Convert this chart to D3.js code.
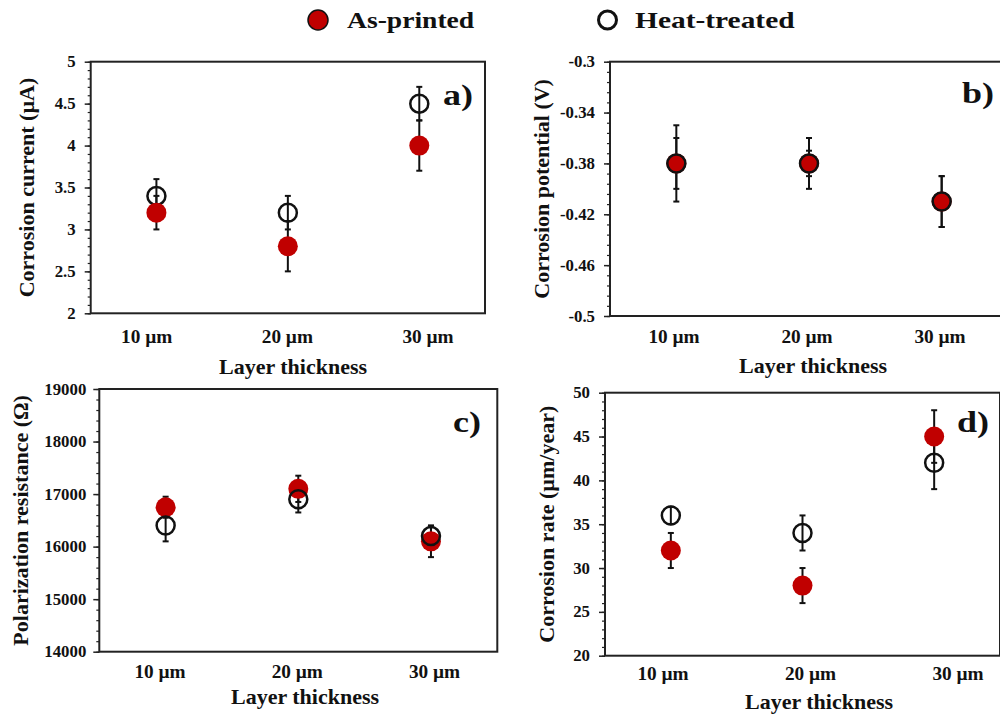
<!DOCTYPE html>
<html>
<head>
<meta charset="utf-8">
<script src="https://cdn.jsdelivr.net/npm/d3@7"></script>
<style>
  body { margin: 0; background: #ffffff; }
  svg text { font-family: 'Liberation Serif', 'DejaVu Serif', serif; font-weight: bold; fill: #111; }
</style>
</head>
<body>
<div id="chart"></div>
<script>
// categories shared by all four panels
const categories = ['10 µm', '20 µm', '30 µm'];

// a) corrosion current (µA)
const currentAs = [3.2, 2.8, 4.0];
const currentAsErr = [0.2, 0.3, 0.3];
const currentHeat = [3.4, 3.2, 4.5];
const currentHeatErr = [0.2, 0.2, 0.2];
const currentTicks = [2, 2.5, 3, 3.5, 4, 4.5, 5];

// b) corrosion potential (V)
const potentialAs = [-0.38, -0.38, -0.41];
const potentialAsErr = [0.03, 0.02, 0.02];
const potentialHeat = [-0.38, -0.38, -0.41];
const potentialHeatErr = [0.02, 0.01, 0.02];
const potentialTicks = [-0.5, -0.46, -0.42, -0.38, -0.34, -0.3];

// c) polarization resistance (Ω)
const resistanceAs = [16750, 17100, 16100];
const resistanceAsErr = [200, 250, 300];
const resistanceHeat = [16400, 16900, 16200];
const resistanceHeatErr = [300, 250, 200];
const resistanceTicks = [14000, 15000, 16000, 17000, 18000, 19000];

// d) corrosion rate (µm/year)
const rateAs = [32, 28, 45];
const rateAsErr = [2, 2, 3];
const rateHeat = [36, 34, 42];
const rateHeatErr = [1, 2, 3];
const rateTicks = [20, 25, 30, 35, 40, 45, 50];

const RED = '#c00000';

const svg = d3.select('#chart')
  .append('svg')
    .attr('width', 1000)
    .attr('height', 716);

// text placed at an anchor point, optionally rotated / stretched sideways
function putText(g, x, y, str, size, anchor, opts) {
  opts = opts || {};
  const sx = opts.sx || 1;
  return g.append('text')
    .attr('transform', 'translate(' + x + ',' + y + ')' + (opts.rotate ? ' rotate(-90)' : '') +
      (sx !== 1 ? ' scale(' + sx + ',1)' : ''))
    .attr('text-anchor', anchor || 'middle')
    .style('font-size', size + 'px')
    .text(str);
}

function doPanel(p) {
  const g = svg.append('g');
  const x = d3.scalePoint().domain(categories).range([p.left, p.right]).padding(0.5);
  // category labels sit a little apart from the markers in the figure
  const xLabel = d3.scalePoint().domain(categories).range(p.labelRange);
  const y = d3.scaleLinear().domain([p.ticks[0], p.ticks[p.ticks.length - 1]]).range([p.bottom, p.top]);

  // minor ticks
  const minor = d3.range(p.ticks[0], p.ticks[p.ticks.length - 1] + p.minor / 2, p.minor);
  g.append('g')
    .attr('transform', 'translate(' + p.left + ',0)')
    .call(d3.axisLeft(y).tickValues(minor).tickSize(3).tickFormat(''))
    .call(a => a.select('.domain').remove())
    .call(a => a.selectAll('line').attr('stroke', '#222').attr('stroke-width', 1.2));

  // major ticks (labels drawn below as plain text)
  g.append('g')
    .attr('transform', 'translate(' + p.left + ',0)')
    .call(d3.axisLeft(y).tickValues(p.ticks).tickSize(6).tickFormat(''))
    .call(a => a.select('.domain').remove())
    .call(a => a.selectAll('line').attr('stroke', '#222').attr('stroke-width', 1.5));

  p.ticks.forEach(t => {
    putText(g, p.left - p.tickGap, y(t) + 5.5, String(+t.toFixed(3)), 16, 'end', { sx: 1.05 });
  });

  // frame
  g.append('rect')
    .attr('x', p.left).attr('y', p.top)
    .attr('width', p.right - p.left).attr('height', p.bottom - p.top)
    .attr('fill', 'none').attr('stroke', '#222').attr('stroke-width', 2);

  // category labels
  categories.forEach(c => {
    putText(g, xLabel(c), p.labelY, c, 18, 'middle', { sx: 1.07 });
  });

  // axis titles
  putText(g, p.xTitleX, p.xTitleY, 'Layer thickness', 22, 'middle');
  putText(g, p.yTitleX, (p.top + p.bottom) / 2, p.yTitle, 22, 'middle', { rotate: true });

  // panel letter
  putText(g, p.letterX, p.letterY, p.letter, 30, 'start', { sx: 1.2 });

  const series = [
    { vals: p.heat, errs: p.heatErr, kind: 'heat' },
    { vals: p.as, errs: p.asErr, kind: 'as' }
  ];
  if (!p.redOnTop) series.reverse();

  // error bars first
  series.forEach(s => {
    s.vals.forEach((v, i) => {
      const cx = x(categories[i]);
      const y0 = y(v - s.errs[i]), y1 = y(v + s.errs[i]);
      g.append('line').attr('x1', cx).attr('x2', cx).attr('y1', y0).attr('y2', y1)
        .attr('stroke', '#111').attr('stroke-width', 2);
      [y0, y1].forEach(yy => {
        g.append('line').attr('x1', cx - 3).attr('x2', cx + 3).attr('y1', yy).attr('y2', yy)
          .attr('stroke', '#111').attr('stroke-width', 2);
      });
    });
  });

  // markers
  series.forEach(s => {
    g.append('g').selectAll('circle')
      .data(s.vals)
      .enter()
      .append('circle')
        .attr('cx', (d, i) => x(categories[i]))
        .attr('cy', d => y(d))
        .attr('r', s.kind === 'as' ? 10 : 9)
        .attr('fill', s.kind === 'as' ? RED : 'none')
        .attr('stroke', s.kind === 'as' ? 'none' : '#111')
        .attr('stroke-width', 2.5);
  });
}

doPanel({ left: 90.7, right: 485, top: 61.7, bottom: 313.3, ticks: currentTicks, minor: 0.1, tickGap: 15,
  as: currentAs, asErr: currentAsErr, heat: currentHeat, heatErr: currentHeatErr, redOnTop: true,
  labelRange: [146.7, 428], labelY: 343, xTitleX: 293, xTitleY: 374,
  yTitle: 'Corrosion current (µA)', yTitleX: 34, letter: 'a)', letterX: 443, letterY: 105 });

doPanel({ left: 610, right: 1008, top: 61.7, bottom: 316, ticks: potentialTicks, minor: 0.008, tickGap: 15,
  as: potentialAs, asErr: potentialAsErr, heat: potentialHeat, heatErr: potentialHeatErr, redOnTop: false,
  labelRange: [674, 940], labelY: 343, xTitleX: 813, xTitleY: 373,
  yTitle: 'Corrosion potential (V)', yTitleX: 549, letter: 'b)', letterX: 962, letterY: 103 });

doPanel({ left: 99.3, right: 497.3, top: 389, bottom: 651.7, ticks: resistanceTicks, minor: 200, tickGap: 13,
  as: resistanceAs, asErr: resistanceAsErr, heat: resistanceHeat, heatErr: resistanceHeatErr, redOnTop: false,
  labelRange: [160, 434.5], labelY: 678, xTitleX: 305, xTitleY: 704,
  yTitle: 'Polarization resistance (Ω)', yTitleX: 28, letter: 'c)', letterX: 453, letterY: 432 });

doPanel({ left: 605, right: 1000, top: 392.7, bottom: 655.7, ticks: rateTicks, minor: 1, tickGap: 15,
  as: rateAs, asErr: rateAsErr, heat: rateHeat, heatErr: rateHeatErr, redOnTop: true,
  labelRange: [663, 958], labelY: 680, xTitleX: 819, xTitleY: 709,
  yTitle: 'Corrosion rate (µm/year)', yTitleX: 554, letter: 'd)', letterX: 957, letterY: 432 });

// legend
const legend = svg.append('g');
legend.append('circle').attr('cx', 318).attr('cy', 20).attr('r', 10)
  .attr('fill', RED).attr('stroke', '#111').attr('stroke-width', 1.5);
putText(legend, 347, 28, 'As-printed', 23, 'start', { sx: 1.2 });
legend.append('circle').attr('cx', 607.5).attr('cy', 20).attr('r', 9)
  .attr('fill', 'none').attr('stroke', '#111').attr('stroke-width', 3);
putText(legend, 635, 28, 'Heat-treated', 23, 'start', { sx: 1.28 });
</script>
</body>
</html>
